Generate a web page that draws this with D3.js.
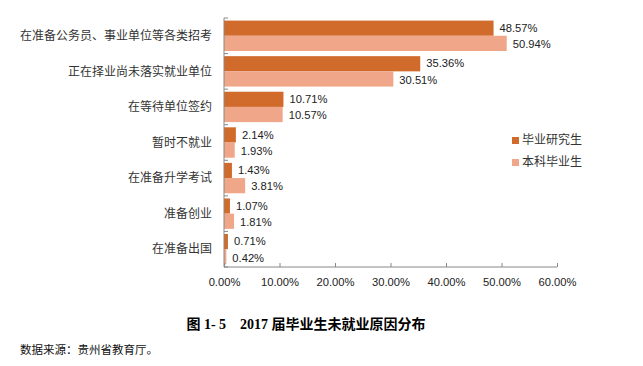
<!DOCTYPE html>
<html><head><meta charset="utf-8">
<script src="https://cdn.jsdelivr.net/npm/d3@7"></script>
<style>body{margin:0;background:#fff}svg{display:block}</style>
</head><body>
<script>
const categories = ["在准备公务员、事业单位等各类招考","正在择业尚未落实就业单位","在等待单位签约","暂时不就业","在准备升学考试","准备创业","在准备出国"];
const seriesNames = ["毕业研究生","本科毕业生"];
const graduate = [48.57,35.36,10.71,2.14,1.43,1.07,0.71];
const undergrad = [50.94,30.51,10.57,1.93,3.81,1.81,0.42];
const xTicks = [0,10,20,30,40,50,60];
const colors = ["#D06B2C","#F0A688"];

const W=643,H=366;
const svg=d3.select("body").append("svg").attr("width",W).attr("height",H);
const x=d3.scaleLinear().domain([0,60]).range([224,557]);
const y=d3.scaleBand().domain(categories).range([18,267]).paddingInner(0).paddingOuter(0);
const inner=d3.scaleBand().domain(seriesNames).range([0,y.bandwidth()]).paddingInner(0).paddingOuter(0.17);
const font="'Noto Sans CJK SC','Noto Sans',sans-serif";
const numFont="'Liberation Sans','Noto Sans',sans-serif";

const data=categories.map((c,i)=>({c,vals:[graduate[i],undergrad[i]]}));
const g=svg.append("g");
data.forEach(d=>{
  d.vals.forEach((v,j)=>{
    const yy=y(d.c)+inner(seriesNames[j]);
    g.append("rect").attr("x",x(0)).attr("y",yy).attr("width",x(v)-x(0)).attr("height",inner.bandwidth()).attr("fill",colors[j]);
    g.append("text").attr("x",x(v)+6).attr("y",yy+inner.bandwidth()/2+(j===0?-0.3:0.8)).attr("dy","0.35em")
      .attr("font-family",numFont).attr("font-size",11.2).attr("fill","#222").text(v.toFixed(2)+"%");
  });
  g.append("text").attr("x",212).attr("y",y(d.c)+y.bandwidth()/2).attr("dy","0.35em").attr("text-anchor","end")
    .attr("font-family",font).attr("font-size",12).attr("fill","#333").text(d.c);
});

// axes
const ax=svg.append("g").attr("transform",`translate(0,${y.range()[1]})`)
  .call(d3.axisBottom(x).tickValues(xTicks).tickSize(-4).tickPadding(11).tickFormat(d=>d.toFixed(2)+"%"));
ax.select(".domain").attr("stroke","#888").attr("d",`M${x(0)},0H${x(60)}`);
ax.selectAll(".tick line").attr("stroke","#888");
ax.selectAll(".tick text").attr("font-family",numFont).attr("font-size",11.2).attr("fill","#222");
const yTicks=categories.map(c=>y(c)).concat([y.range()[1]]);
const ay=svg.append("g");
ay.append("line").attr("x1",x(0)).attr("x2",x(0)).attr("y1",y.range()[0]).attr("y2",y.range()[1]).attr("stroke","#888");
yTicks.forEach(t=>ay.append("line").attr("x1",x(0)).attr("x2",x(0)+4).attr("y1",t).attr("y2",t).attr("stroke","#888"));

// legend
seriesNames.forEach((s,i)=>{
  const ly=140+i*22;
  svg.append("rect").attr("x",512).attr("y",ly-3).attr("width",7).attr("height",7).attr("fill",colors[i]);
  svg.append("text").attr("x",522).attr("y",ly).attr("dy","0.35em").attr("font-family",font).attr("font-size",12).attr("fill","#333").text(s);
});

// title & source
svg.append("text").attr("x",306).attr("y",329).attr("text-anchor","middle").attr("font-family","'Liberation Serif','Noto Sans CJK SC',serif")
  .attr("font-weight","bold").attr("font-size",14).attr("fill","#000").attr("xml:space","preserve").text("图 1- 5    2017 届毕业生未就业原因分布");
svg.append("text").attr("x",20).attr("y",354).attr("font-family","'Noto Sans CJK SC',sans-serif").attr("font-size",11.5).attr("fill","#111").text("数据来源：贵州省教育厅。");
</script>
</body></html>
